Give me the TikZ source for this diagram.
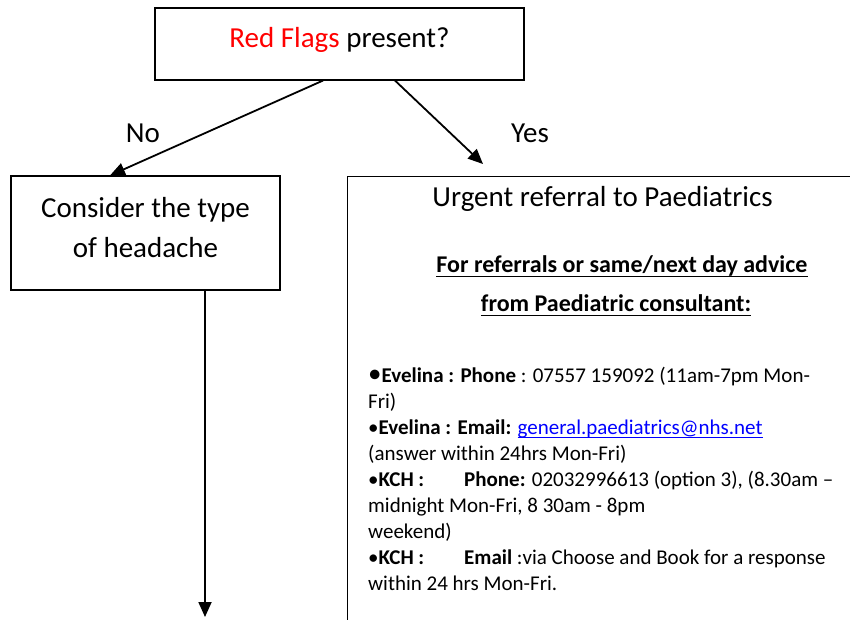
\documentclass[tikz,border=0pt]{standalone}
\usepackage{fontspec}
\setmainfont{Carlito}
\usetikzlibrary{arrows.meta}
% underline at a fixed distance below the baseline
\newcommand{\undr}[2]{\setbox0\hbox{#2}\rlap{\vrule height -#1 depth \dimexpr#1+1.3pt\relax width \wd0}\box0}

\begin{document}
\begin{tikzpicture}[x=1pt, y=-1pt,
  box/.style={draw, line width=1.1pt, inner sep=0pt, align=center},
  flow/.style={-{Triangle[length=15pt,width=13pt]}, line width=1.8pt},
  big/.style={font=\fontsize{29}{40}\selectfont},
  head/.style={font=\fontsize{24}{38}\selectfont\bfseries},
  body/.style={font=\fontsize{21}{26}\selectfont, align=left, inner sep=0pt, anchor=base west}]
\useasboundingbox (0,0) rectangle (850,619);
\clip (0,0) rectangle (850,619);

% question box and the two outcomes
\path
(339.5,44) node[box, big, text depth=13pt, minimum width=369pt, minimum height=72pt](flags)
  {\textcolor{red}{Red Flags} present?}
(145.5,233) node[box, big, text depth=11pt, minimum width=269pt, minimum height=114pt](consider)
  {Consider the type\\of headache}
(347,176) node[box, anchor=north west, minimum width=620pt, minimum height=520pt](referral) {};

%% branch labels
\node[big, anchor=base] (no) at (143,142) {No};
\node[big, anchor=base] (yes) at (530,142) {Yes};

%% arrows out of the question
\draw[flow] ([xshift=-16.5pt]flags.south) -- ([xshift=-35.5pt]consider.north);
\coordinate (yestip) at (483,164);
\draw[flow] ([xshift=55.5pt]flags.south) -- (yestip);
\coordinate (downtip) at (205,617);
\draw[flow] ([xshift=59.5pt]consider.south) -- (downtip);

%% text of the referral box
\node[big, anchor=base] (urgent) at (602.5,206) {Urgent referral to Paediatrics};
\node[head, anchor=base] (advice) at (622,272) {\undr{4pt}{For referrals or same/next day advice}};
\node[head, anchor=base] (consultant) at (616,311) {\undr{4pt}{from Paediatric consultant:}};
\node[body] (contacts) at (368,590) {%
{\fontsize{27}{26}\selectfont\textbullet}\textbf{Evelina : Phone} : 07557 159092 (11am-7pm Mon-\\
Fri)\\
\textbullet\textbf{Evelina : Email:} \textcolor{blue}{\undr{2.5pt}{general.paediatrics@nhs.net}}\\
(answer within 24hrs Mon-Fri)\\
\makebox[96pt][l]{\textbullet\textbf{KCH :}}\textbf{Phone:} 02032996613 (option 3), (8.30am --\\
midnight Mon-Fri, 8 30am - 8pm\\
weekend)\\
\makebox[96pt][l]{\textbullet\textbf{KCH :}}\textbf{Email} :via Choose and Book for a response\\
within 24 hrs Mon-Fri.};

\end{tikzpicture}
\end{document}
